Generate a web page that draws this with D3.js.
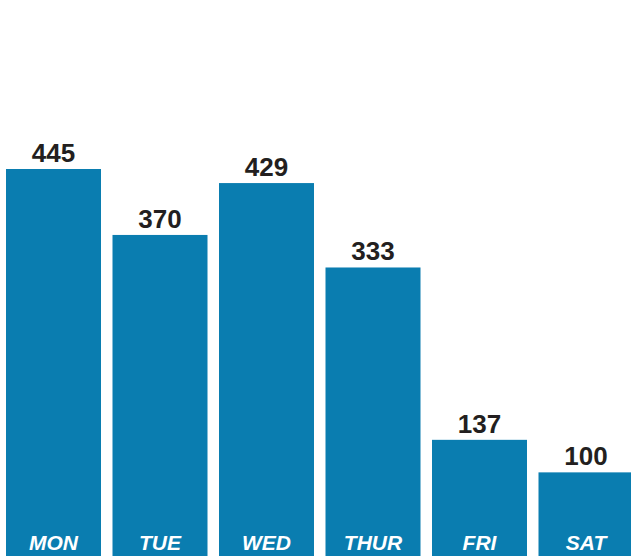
<!DOCTYPE html>
<html>
<head>
<meta charset="utf-8">
<script src="https://cdn.jsdelivr.net/npm/d3@7"></script>
<style>
  html, body { margin: 0; padding: 0; background: #ffffff; }
  svg { display: block; }
</style>
</head>
<body>
<svg id="chart" width="631" height="556"></svg>
<script>
const days = ["MON", "TUE", "WED", "THUR", "FRI", "SAT"];
const counts = [445, 370, 429, 333, 137, 100];

const width = 631, height = 556;
const svg = d3.select("#chart");

const x = d3.scaleBand()
  .domain(days)
  .range([6, 633.5])
  .paddingInner(0.108)
  .paddingOuter(0);

const y = d3.scaleLinear()
  .domain([0, 445])
  .range([560.3, 169]);

const data = days.map((d, i) => ({ day: d, value: counts[i] }));

svg.selectAll("rect.bar")
  .data(data)
  .join("rect")
  .attr("class", "bar")
  .attr("x", d => x(d.day))
  .attr("y", d => y(d.value))
  .attr("width", x.bandwidth())
  .attr("height", d => height + 10 - y(d.value))
  .attr("fill", "#0a7db0");

svg.selectAll("text.val")
  .data(data)
  .join("text")
  .attr("class", "val")
  .attr("x", d => x(d.day) + x.bandwidth() / 2)
  .attr("y", d => y(d.value) - 7)
  .attr("text-anchor", "middle")
  .attr("font-family", "'Liberation Sans', Arial, Helvetica, sans-serif")
  .attr("font-weight", "bold")
  .attr("font-size", 26)
  .attr("fill", "#231f20")
  .text(d => d.value);

svg.selectAll("text.day")
  .data(data)
  .join("text")
  .attr("class", "day")
  .attr("x", d => x(d.day) + x.bandwidth() / 2)
  .attr("y", 550)
  .attr("text-anchor", "middle")
  .attr("font-family", "'Liberation Sans', Arial, Helvetica, sans-serif")
  .attr("font-weight", "bold")
  .attr("font-style", "italic")
  .attr("font-size", 21)
  .attr("fill", "#ffffff")
  .text(d => d.day);
</script>
</body>
</html>
